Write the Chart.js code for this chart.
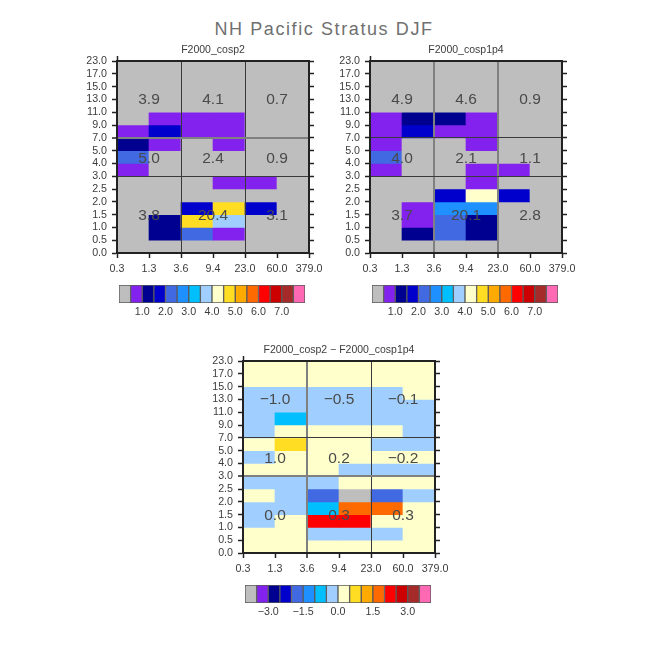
<!DOCTYPE html>
<html lang="en">
<head>
    <meta charset="UTF-8">
    <title>NH Pacific Stratus DJF</title>
    <script src="https://cdn.jsdelivr.net/npm/chart.js"></script>
    <style>
        body { margin: 0; background: #fff; }
        canvas { position: absolute; }
        #mainTitle {
            position: absolute; left: 0; top: 19px; width: 648px; text-align: center;
            font: 18px "Liberation Sans", sans-serif; letter-spacing: 1.6px; color: #707070;
        }
    </style>
</head>
<body>
    <div id="mainTitle">NH Pacific Stratus DJF</div>
    <canvas id="plot1" width="272" height="235" style="left:77px;top:43px"></canvas>
    <canvas id="plot2" width="272" height="235" style="left:330px;top:43px"></canvas>
    <canvas id="plot3" width="272" height="235" style="left:203px;top:343px"></canvas>
    <canvas id="bar1" width="206" height="44" style="left:109px;top:285px"></canvas>
    <canvas id="bar2" width="206" height="44" style="left:362px;top:285px"></canvas>
    <canvas id="bar3" width="206" height="44" style="left:235px;top:585px"></canvas>

    <script>
        const xTicks = ['0.3', '1.3', '3.6', '9.4', '23.0', '60.0', '379.0'];
        const yTicks = ['0.0', '0.5', '1.0', '1.5', '2.0', '2.5', '3.0', '4.0', '5.0', '7.0', '9.0', '11.0', '13.0', '15.0', '17.0', '23.0'];

        const barColors = ['#bebebe', '#8322ee', '#000090', '#0000cd', '#4169e1', '#1e90ff', '#00bfff', '#a0cfff',
            '#ffffcc', '#ffdd22', '#ffaa00', '#ff6a00', '#ff0000', '#cc0000', '#a52a2a', '#ff69b4'];
        const fracLevels = [0.5, 1.0, 1.5, 2.0, 2.5, 3.0, 3.5, 4.0, 4.5, 5.0, 5.5, 6.0, 6.5, 7.0, 7.5];
        const diffLevels = [-3.5, -3.0, -2.5, -2.0, -1.5, -1.0, -0.5, 0.0, 0.5, 1.0, 1.5, 2.0, 2.5, 3.0, 3.5];
        const fracBarLabels = ['', '', '1.0', '', '2.0', '', '3.0', '', '4.0', '', '5.0', '', '6.0', '', '7.0', '', ''];
        const diffBarLabels = ['', '', '\u22123.0', '', '', '\u22121.5', '', '', '0.0', '', '', '1.5', '', '', '3.0', '', ''];

        // one row per y bin, lowest bin first, one value per x bin
        const cosp2Values = [
            [0.2, 0.2, 0.2, 0.2, 0.2, 0.2],
            [0.2, 1.2, 2.2, 0.7, 0.2, 0.2],
            [0.2, 1.2, 4.7, 3.7, 0.2, 0.2],
            [0.2, 0.2, 1.7, 4.7, 1.7, 0.2],
            [0.2, 0.2, 0.2, 0.2, 0.2, 0.2],
            [0.2, 0.2, 0.2, 0.7, 0.7, 0.2],
            [0.7, 0.2, 0.2, 0.2, 0.2, 0.2],
            [2.2, 0.2, 0.2, 0.2, 0.2, 0.2],
            [1.2, 0.7, 0.2, 0.7, 0.2, 0.2],
            [0.7, 1.7, 0.7, 0.7, 0.2, 0.2],
            [0.2, 0.7, 0.7, 0.7, 0.2, 0.2],
            [0.2, 0.2, 0.2, 0.2, 0.2, 0.2],
            [0.2, 0.2, 0.2, 0.2, 0.2, 0.2],
            [0.2, 0.2, 0.2, 0.2, 0.2, 0.2],
            [0.2, 0.2, 0.2, 0.2, 0.2, 0.2]
        ];
        const cosp1p4Values = [
            [0.2, 0.2, 0.2, 0.2, 0.2, 0.2],
            [0.2, 1.2, 2.2, 1.2, 0.2, 0.2],
            [0.2, 0.7, 2.2, 1.2, 0.2, 0.2],
            [0.2, 0.7, 2.7, 2.7, 0.2, 0.2],
            [0.2, 0.2, 1.7, 4.2, 1.7, 0.2],
            [0.2, 0.2, 0.2, 0.7, 0.2, 0.2],
            [0.7, 0.2, 0.2, 0.7, 0.7, 0.2],
            [2.2, 0.2, 0.2, 0.2, 0.2, 0.2],
            [0.7, 0.2, 0.2, 0.7, 0.2, 0.2],
            [0.7, 1.7, 0.7, 0.7, 0.2, 0.2],
            [0.7, 1.2, 1.2, 0.7, 0.2, 0.2],
            [0.2, 0.2, 0.2, 0.2, 0.2, 0.2],
            [0.2, 0.2, 0.2, 0.2, 0.2, 0.2],
            [0.2, 0.2, 0.2, 0.2, 0.2, 0.2],
            [0.2, 0.2, 0.2, 0.2, 0.2, 0.2]
        ];
        const diffValues = [
            [0.2, 0.2, 0.2, 0.2, 0.2, 0.2],
            [0.2, 0.2, -0.2, -0.2, -0.2, 0.2],
            [-0.2, 0.2, 2.2, 2.2, 0.2, 0.2],
            [-0.2, -0.2, -0.7, 1.7, 1.7, 0.2],
            [0.2, -0.2, -1.7, -3.8, -1.7, -0.2],
            [-0.2, -0.2, -0.2, 0.2, 0.2, 0.2],
            [0.2, 0.2, 0.2, -0.2, -0.2, -0.2],
            [-0.2, 0.2, 0.2, 0.2, 0.2, 0.2],
            [0.2, 0.7, 0.2, 0.2, -0.2, -0.2],
            [-0.2, 0.2, 0.2, 0.2, 0.2, -0.2],
            [-0.2, -0.7, -0.2, -0.2, -0.2, -0.2],
            [-0.2, -0.2, -0.2, -0.2, -0.2, -0.2],
            [-0.2, -0.2, -0.2, -0.2, -0.2, 0.2],
            [0.2, 0.2, 0.2, 0.2, 0.2, 0.2],
            [0.2, 0.2, 0.2, 0.2, 0.2, 0.2]
        ];

        // regional totals, top row of the 3x3 first
        const cosp2Totals = ['3.9', '4.1', '0.7', '5.0', '2.4', '0.9', '3.8', '20.4', '3.1'];
        const cosp1p4Totals = ['4.9', '4.6', '0.9', '4.0', '2.1', '1.1', '3.7', '20.1', '2.8'];
        const diffTotals = ['\u22121.0', '\u22120.5', '\u22120.1', '1.0', '0.2', '\u22120.2', '0.0', '0.3', '0.3'];

        const font = 'Liberation Sans';
        const ink = '#3c3c3c';
        const spine = '#222222';

        function colorFor(value, levels) {
            let i = levels.findIndex(level => value < level);
            return barColors[i < 0 ? levels.length : i];
        }

        // draws the 3x3 totals through the chart scales
        const totalsPlugin = {
            id: 'totals',
            afterDraw(chart, args, opts) {
                const c = chart.ctx;
                c.save();
                c.font = '15.5px "' + font + '"';
                c.fillStyle = '#4a4a4a';
                c.textAlign = 'center';
                c.textBaseline = 'middle';
                opts.values.forEach((text, i) => {
                    const x = chart.scales.x.getPixelForValue([1, 3, 5][i % 3]);
                    const y = chart.scales.y.getPixelForValue([11.95, 7.4, 2.9][Math.floor(i / 3)]);
                    c.fillText(text, x, y);
                });
                c.restore();
            }
        };

        function fixedSize(prop, size) {
            return scale => { scale[prop] = size; };
        }

        function gridStyle(thickIndexes, lineIndexes) {
            return {
                z: 1,
                offset: false,
                tickLength: 5,
                tickColor: spine,
                tickWidth: 1.5,
                color: ctx => {
                    if (!lineIndexes.includes(ctx.index)) return 'rgba(0,0,0,0)';
                    return thickIndexes.includes(ctx.index) ? '#808080' : '#3a3a3a';
                },
                lineWidth: ctx => thickIndexes.includes(ctx.index) ? 2 : 1
            };
        }

        function mirrorAxis(axis, position, max, prop, size) {
            return {
                axis: axis,
                position: position,
                min: 0,
                max: max,
                offset: false,
                afterFit: fixedSize(prop, size),
                border: { color: spine, width: 2, z: 2 },
                grid: { offset: false, drawOnChartArea: false, tickLength: 5, tickColor: spine, tickWidth: 1.5 },
                ticks: { display: false, stepSize: 1 }
            };
        }

        function makePlot(id, title, rows, levels, totals, thickX, thickY) {
            const cells = [];
            rows.forEach((row, r) => row.forEach((value, col) => {
                cells.push({ x: col + 0.5, y: [r, r + 1], value: value });
            }));

            new Chart(document.getElementById(id), {
                type: 'bar',
                data: {
                    datasets: [{
                        data: cells,
                        backgroundColor: cells.map(cell => colorFor(cell.value, levels)),
                        borderWidth: 0,
                        barPercentage: 1,
                        categoryPercentage: 1
                    }]
                },
                plugins: [totalsPlugin],
                options: {
                    responsive: false,
                    animation: false,
                    layout: { padding: { top: 0.4 } },
                    plugins: {
                        legend: { display: false },
                        tooltip: { enabled: false },
                        title: { display: true, text: title, color: ink, padding: 0, font: { family: font, size: 10.5, weight: 'normal' } },
                        totals: { values: totals }
                    },
                    scales: {
                        x: {
                            type: 'linear',
                            min: 0,
                            max: 6,
                            offset: false,
                            afterFit: fixedSize('height', 25),
                            border: { color: spine, width: 2, z: 2 },
                            grid: gridStyle(thickX, [2, 4]),
                            ticks: {
                                stepSize: 1, padding: 5, maxRotation: 0, autoSkip: false, color: ink,
                                font: { family: font, size: 10.7 },
                                callback: value => xTicks[value]
                            }
                        },
                        y: {
                            type: 'linear',
                            min: 0,
                            max: 15,
                            afterFit: fixedSize('width', 40),
                            border: { color: spine, width: 2, z: 2 },
                            grid: gridStyle(thickY, [6, 9]),
                            ticks: {
                                stepSize: 1, padding: 5, autoSkip: false, color: ink,
                                font: { family: font, size: 10.7 },
                                callback: value => yTicks[value]
                            }
                        },
                        xTop: mirrorAxis('x', 'top', 6, 'height', 5),
                        yRight: mirrorAxis('y', 'right', 15, 'width', 40)
                    }
                }
            });
        }

        function makeColorBar(id, labels) {
            const boxes = barColors.map((color, i) => ({ x: i + 0.5, y: [0, 1] }));

            new Chart(document.getElementById(id), {
                type: 'bar',
                data: {
                    datasets: [{
                        data: boxes,
                        backgroundColor: barColors,
                        borderColor: '#5a5a5a',
                        borderWidth: 1,
                        borderSkipped: false,
                        barPercentage: 1,
                        categoryPercentage: 1
                    }]
                },
                options: {
                    responsive: false,
                    animation: false,
                    layout: { padding: { left: 10, right: 10, top: 0 } },
                    plugins: { legend: { display: false }, tooltip: { enabled: false } },
                    scales: {
                        x: {
                            type: 'linear',
                            min: 0,
                            max: 16,
                            offset: false,
                            afterFit: fixedSize('height', 26),
                            border: { display: false },
                            grid: { display: false, drawTicks: false, offset: false },
                            ticks: {
                                stepSize: 1, padding: 3, maxRotation: 0, autoSkip: false, color: ink,
                                font: { family: font, size: 10.7 },
                                callback: value => labels[value]
                            }
                        },
                        y: { display: false, min: 0, max: 1 }
                    }
                }
            });
        }

        makePlot('plot1', 'F2000_cosp2', cosp2Values, fracLevels, cosp2Totals, [], [9]);
        makePlot('plot2', 'F2000_cosp1p4', cosp1p4Values, fracLevels, cosp1p4Totals, [2, 4], []);
        makePlot('plot3', 'F2000_cosp2 \u2212 F2000_cosp1p4', diffValues, diffLevels, diffTotals, [2], [6]);

        makeColorBar('bar1', fracBarLabels);
        makeColorBar('bar2', fracBarLabels);
        makeColorBar('bar3', diffBarLabels);
    </script>
</body>
</html>
